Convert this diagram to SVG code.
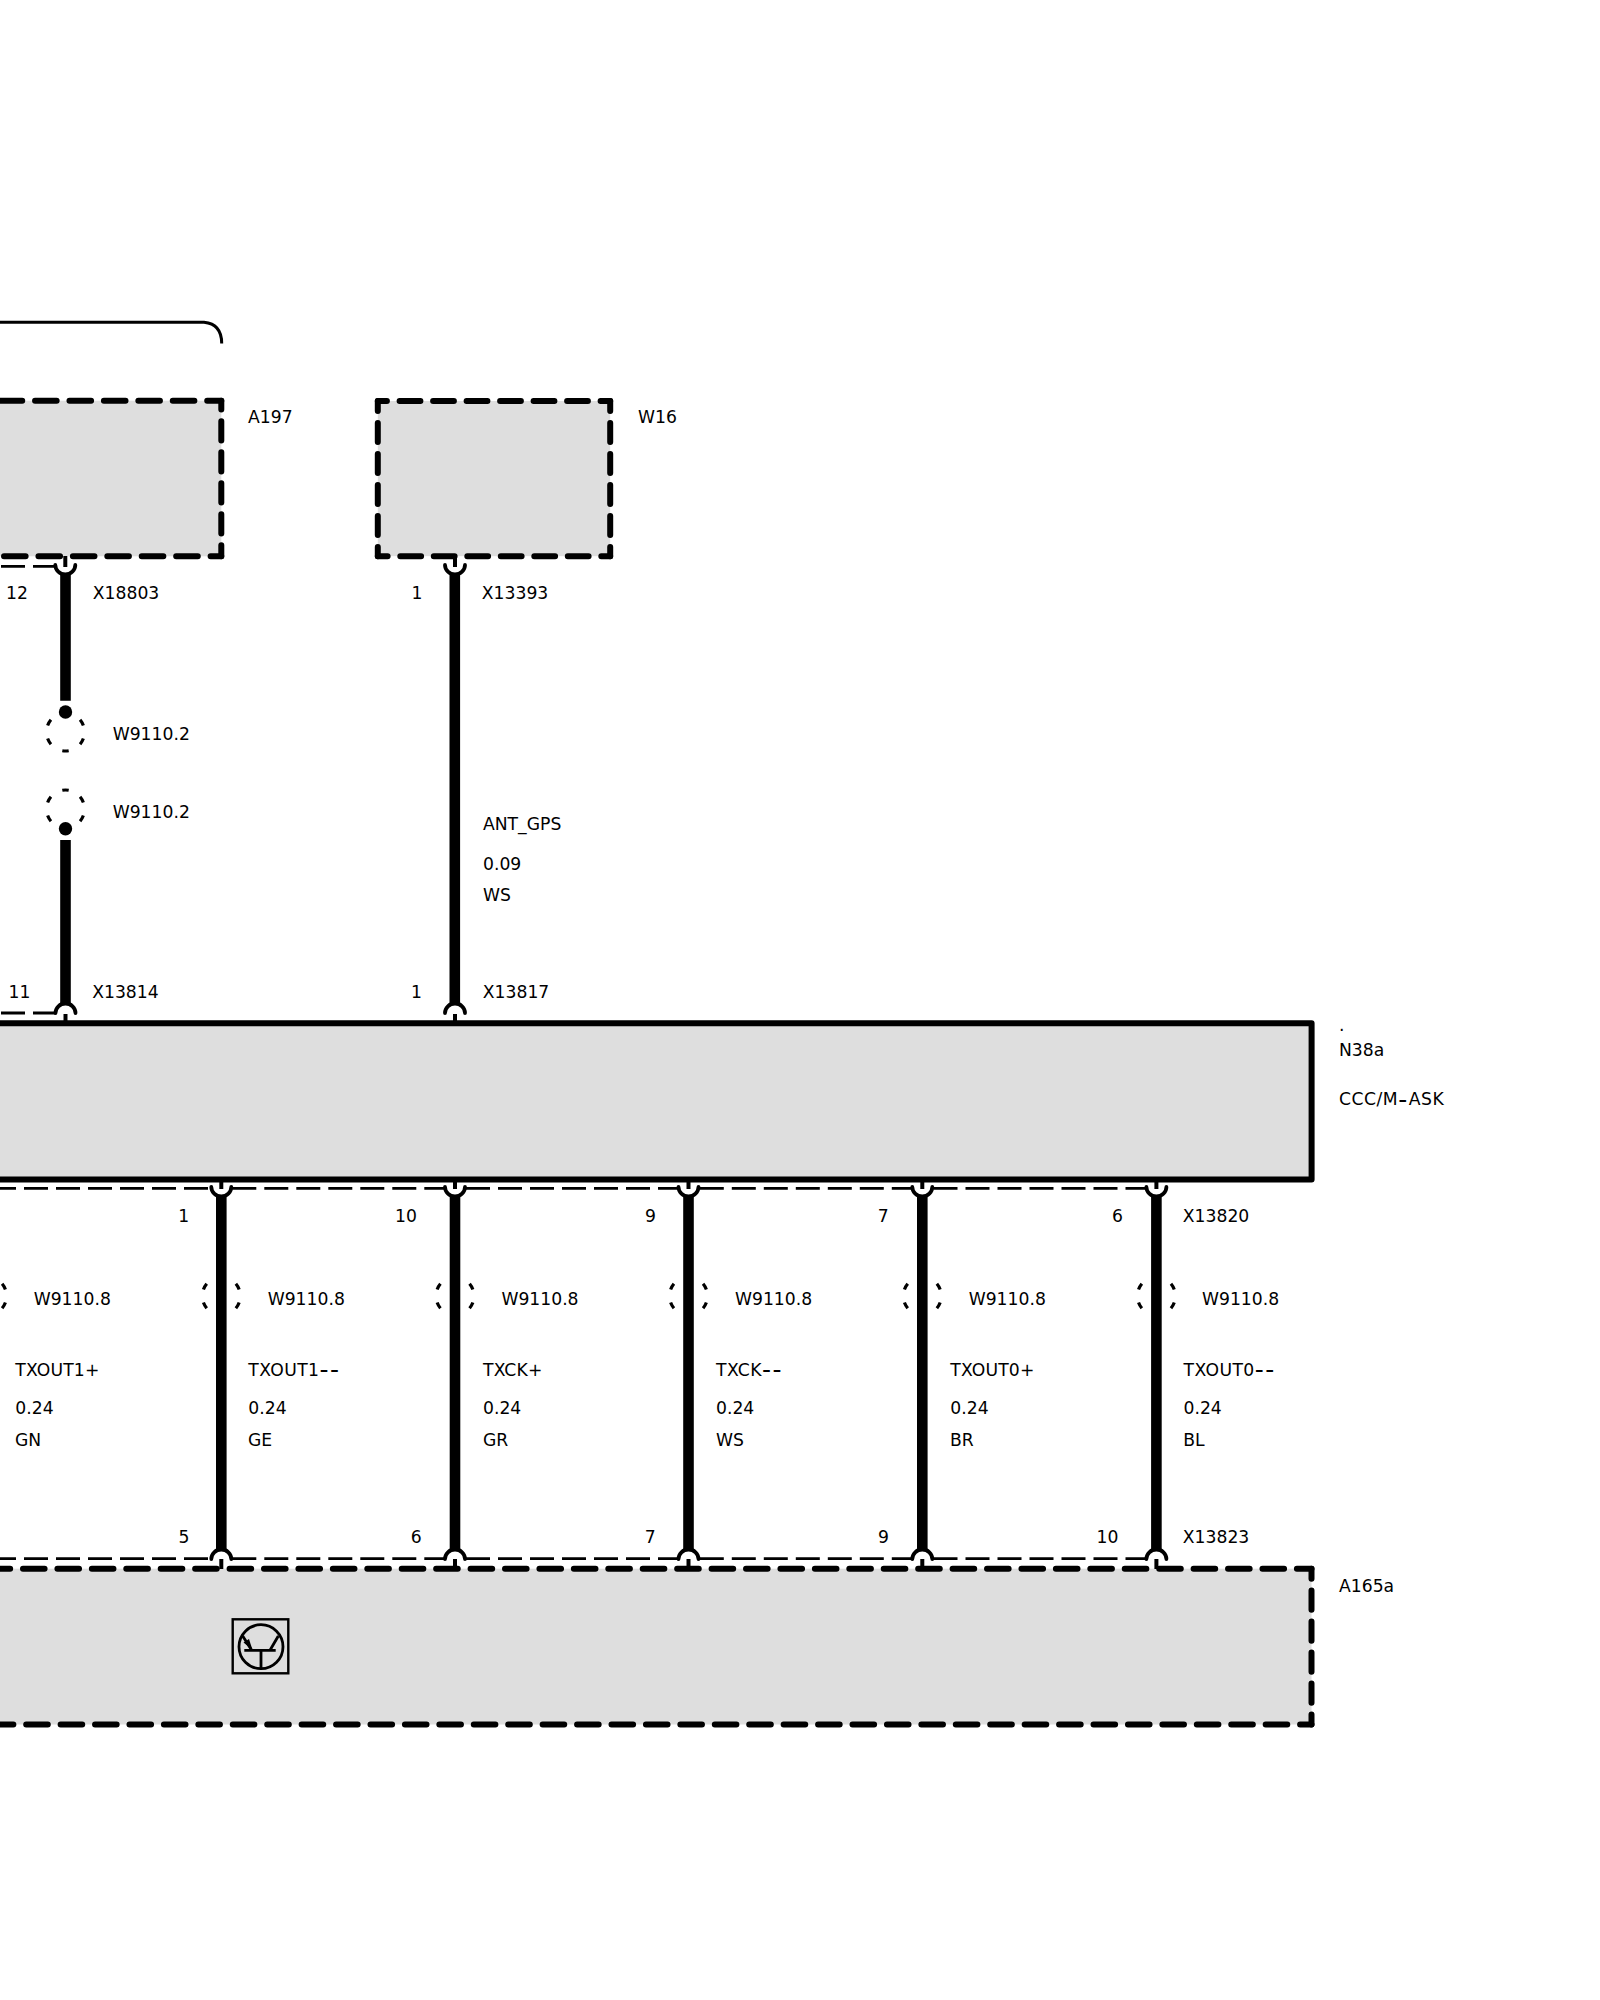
<svg xmlns="http://www.w3.org/2000/svg" xmlns:xlink="http://www.w3.org/1999/xlink" width="1600" height="2000" viewBox="0 0 1600 2000">
<style>
text{font-family:"DejaVu Sans","Liberation Sans",sans-serif;font-size:17.2px;fill:#000}
.hy{font-size:25px;letter-spacing:1.6px}
.fill{fill:#dedede;stroke:none}
.dh{fill:none;stroke:#000;stroke-width:6;stroke-linecap:round;stroke-dasharray:21.6 12.83}
.dv{fill:none;stroke:#000;stroke-width:6;stroke-linecap:round;stroke-dasharray:19.2 11.8}
.wire{fill:none;stroke:#000;stroke-width:10.6}
.thin{fill:none;stroke:#000;stroke-width:2.8;stroke-dasharray:24 8}
.fork{fill:none;stroke:#000;stroke-width:3.8;stroke-linecap:round}
.stub{fill:none;stroke:#000;stroke-width:4}
.shield{fill:none;stroke:#000;stroke-width:3.2;stroke-dasharray:20 40}
.sym{fill:none;stroke:#000;stroke-width:2.8}
</style>
<defs>
<path id="cup" class="fork" d="M-10,-1 A10,9.5 0 0 0 10,-1"/>
<path id="arch" class="fork" d="M-10,1 A10,9.5 0 0 1 10,1"/>
<circle id="sh" class="shield" r="19" pathLength="360" stroke-dashoffset="-20"/>
</defs>

<g id="bracket"><path d="M-5,322.3 H204 Q221.7,324 221.7,343.5" fill="none" stroke="#000" stroke-width="3"/></g>

<g id="A197">
<rect class="fill" x="-10" y="400.7" width="231.3" height="155.6"/>
<path class="dh" d="M221.3,400.7 H-10" stroke-dashoffset="7.5"/>
<path class="dh" d="M221.3,556.3 H-10" stroke-dashoffset="10.9"/>
<path class="dv" d="M221.3,400.7 V556.3" stroke-dashoffset="10.5"/>
<text x="248" y="423.3">A197</text>
</g>

<g id="W16">
<rect class="fill" x="377.8" y="401" width="232.4" height="155.2"/>
<path class="dh" d="M377.8,401 H610.2" style="stroke-dasharray:20.8 12.7" stroke-dashoffset="11.7"/>
<path class="dh" d="M377.8,556.2 H610.2" style="stroke-dasharray:20.8 12.7" stroke-dashoffset="11"/>
<path class="dv" d="M377.8,401 V556.2" stroke-dashoffset="9.1"/>
<path class="dv" d="M610.2,401 V556.2" stroke-dashoffset="9.1"/>
<text x="638" y="423.3">W16</text>
</g>

<g id="N38a">
<rect x="-10" y="1023.3" width="1321.6" height="156.2" fill="#dedede" stroke="#000" stroke-width="6" stroke-linejoin="round"/>
<text x="1339" y="1030.7">.</text>
<text x="1339" y="1056">N38a</text>
<text x="1339" y="1105.3" letter-spacing="0.5">CCC/M<tspan class="hy" dy="2.3">-</tspan><tspan dy="-2.3">ASK</tspan></text>
</g>

<g id="A165a">
<rect class="fill" x="-10" y="1568.7" width="1321.5" height="155.8"/>
<path class="dh" d="M1311.5,1568.7 H-10" stroke-dashoffset="7"/>
<path class="dh" d="M1311.5,1724.5 H-10" stroke-dashoffset="10.2"/>
<path class="dv" d="M1311.5,1568.7 V1724.5" stroke-dashoffset="9.1"/>
<text x="1339" y="1591.7">A165a</text>
<g id="transistor">
<rect class="sym" style="stroke-width:2.4" x="232.7" y="1619.3" width="55.6" height="54"/>
<circle class="sym" cx="261" cy="1646.7" r="22"/>
<path class="sym" d="M244.3,1650.3 H275.7 M261,1650.3 V1668 M270,1650.3 L278.3,1636 M251.7,1650.3 L242.7,1636"/>
<path d="M252.5,1650 L243.5,1642.5 L249,1639 Z" fill="#000"/>
</g>
</g>

<g id="connectors">
<path class="thin" d="M1,566.3 H55"/>
<path class="thin" d="M1,1013 H55"/>
<path class="thin" d="M-8,1188.3 H210.7 M232.3,1188.3 H444 M466,1188.3 H677.8 M699.8,1188.3 H911.5 M933.5,1188.3 H1145.3"/>
<path class="thin" d="M-8,1558.7 H210.7 M232.3,1558.7 H444 M466,1558.7 H677.8 M699.8,1558.7 H911.5 M933.5,1558.7 H1145.3"/>

<g id="wire-top">
<path class="stub" d="M65.3,556 V567"/><use xlink:href="#cup" href="#cup" x="65.3" y="566"/>
<path class="wire" d="M65.5,574 V700.7 M65.5,840 V1004"/>
<circle cx="65.5" cy="712" r="6.7"/><circle cx="65.5" cy="828.7" r="6.7"/>
<use xlink:href="#sh" href="#sh" x="65.5" y="732"/><use xlink:href="#sh" href="#sh" x="65.5" y="809"/>
<use xlink:href="#arch" href="#arch" x="65.5" y="1012"/><path class="stub" d="M65.5,1014 V1023"/>

<path class="stub" d="M455,556 V567"/><use xlink:href="#cup" href="#cup" x="455" y="566"/>
<path class="wire" d="M454.8,574 V1004"/>
<use xlink:href="#arch" href="#arch" x="455" y="1012"/><path class="stub" d="M455,1014 V1023"/>
</g>

<g id="wires-bottom">
<use xlink:href="#sh" href="#sh" x="-12.45" y="1296"/>
<use xlink:href="#sh" href="#sh" x="221.3" y="1296"/>
<use xlink:href="#sh" href="#sh" x="455" y="1296"/>
<use xlink:href="#sh" href="#sh" x="688.5" y="1296"/>
<use xlink:href="#sh" href="#sh" x="922.3" y="1296"/>
<use xlink:href="#sh" href="#sh" x="1156.4" y="1296"/>
<path class="wire" d="M221.3,1197 V1550 M455,1197 V1550 M688.5,1197 V1550 M922.3,1197 V1550 M1156.4,1197 V1550"/>
<path class="stub" d="M221.3,1180 V1189 M455,1180 V1189 M688.5,1180 V1189 M922.3,1180 V1189 M1156.4,1180 V1189 M221.3,1559 V1569 M455,1559 V1569 M688.5,1559 V1569 M922.3,1559 V1569 M1156.4,1559 V1569"/>
<use xlink:href="#cup" href="#cup" x="221.3" y="1188"/><use xlink:href="#cup" href="#cup" x="455" y="1188"/><use xlink:href="#cup" href="#cup" x="688.5" y="1188"/><use xlink:href="#cup" href="#cup" x="922.3" y="1188"/><use xlink:href="#cup" href="#cup" x="1156.4" y="1188"/>
<use xlink:href="#arch" href="#arch" x="221.3" y="1558"/><use xlink:href="#arch" href="#arch" x="455" y="1558"/><use xlink:href="#arch" href="#arch" x="688.5" y="1558"/><use xlink:href="#arch" href="#arch" x="922.3" y="1558"/><use xlink:href="#arch" href="#arch" x="1156.4" y="1558"/>
</g>
</g>

<g id="labels">
<text x="6" y="599">12</text><text x="92.8" y="599">X18803</text>
<text x="411.5" y="599">1</text><text x="481.8" y="599">X13393</text>
<text x="112.7" y="740">W9110.2</text><text x="112.7" y="818">W9110.2</text>
<text x="8.5" y="997.7">11</text><text x="92.2" y="997.7">X13814</text>
<text x="411" y="997.7">1</text><text x="482.8" y="997.7">X13817</text>
<text x="483" y="830">ANT_GPS</text><text x="483" y="870">0.09</text><text x="483" y="900.7">WS</text>

<text x="178.3" y="1221.7">1</text><text x="395" y="1221.7">10</text><text x="645" y="1221.7">9</text><text x="877.7" y="1221.7">7</text><text x="1112" y="1221.7">6</text><text x="1182.8" y="1221.7">X13820</text>
<text x="178.5" y="1543">5</text><text x="410.7" y="1543">6</text><text x="644.7" y="1543">7</text><text x="878" y="1543">9</text><text x="1096.5" y="1543">10</text><text x="1182.8" y="1543">X13823</text>

<text x="33.7" y="1305">W9110.8</text><text x="267.7" y="1305">W9110.8</text><text x="501.4" y="1305">W9110.8</text><text x="735" y="1305">W9110.8</text><text x="968.7" y="1305">W9110.8</text><text x="1202" y="1305">W9110.8</text>

<text x="15.3" y="1376" letter-spacing="0.15">TXOUT1+</text><text x="15.3" y="1414">0.24</text><text x="15" y="1446">GN</text>
<text x="248.3" y="1376" letter-spacing="0.4">TXOUT1<tspan class="hy" dy="2.3">--</tspan></text><text x="248.3" y="1414">0.24</text><text x="248" y="1446">GE</text>
<text x="483" y="1376" letter-spacing="0.15">TXCK+</text><text x="483" y="1414">0.24</text><text x="483" y="1446">GR</text>
<text x="716" y="1376" letter-spacing="0.4">TXCK<tspan class="hy" dy="2.3">--</tspan></text><text x="716" y="1414">0.24</text><text x="716" y="1446">WS</text>
<text x="950.3" y="1376" letter-spacing="0.15">TXOUT0+</text><text x="950.3" y="1414">0.24</text><text x="950" y="1446">BR</text>
<text x="1183.5" y="1376" letter-spacing="0.4">TXOUT0<tspan class="hy" dy="2.3">--</tspan></text><text x="1183.5" y="1414">0.24</text><text x="1183.3" y="1446">BL</text>
</g>
</svg>
